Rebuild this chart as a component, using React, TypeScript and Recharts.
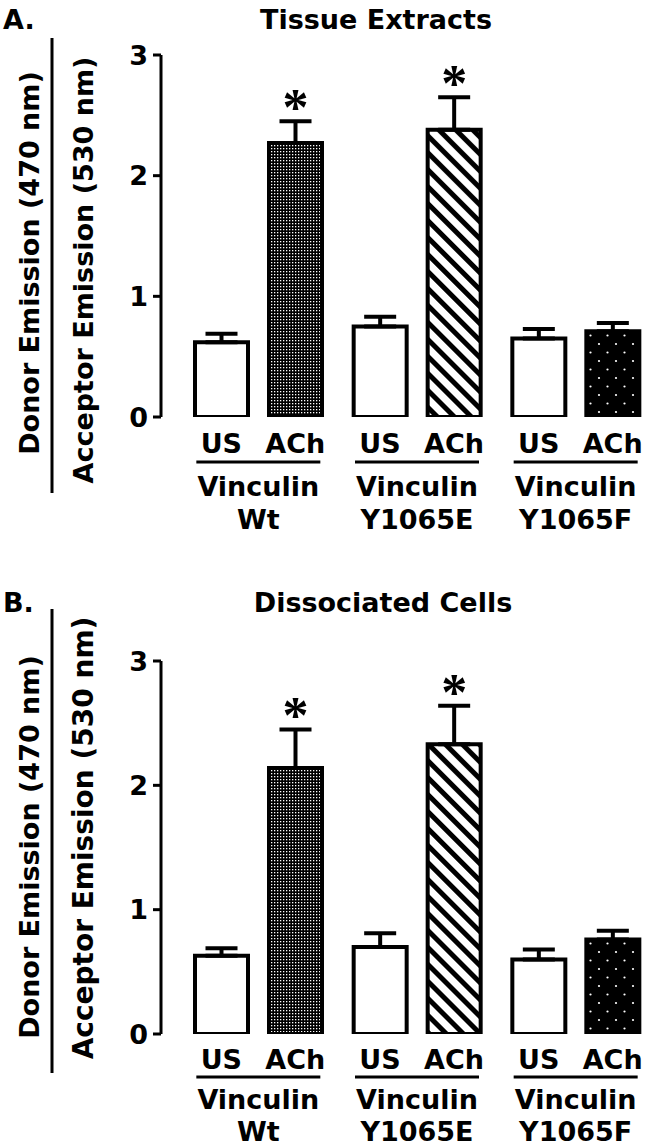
import React from "react";
import { BarChart, Bar, XAxis, YAxis, ErrorBar, Cell, LabelList } from "recharts";

// vinculin FRET ratio, two preparations
const GROUPS = ["Wt", "Y1065E", "Y1065F"];
const PROTEIN = "Vinculin";
const CONDITIONS = ["US", "ACh"];
const Y_TICKS = [0, 1, 2, 3];

const TISSUE_US = [0.62, 0.75, 0.65];
const TISSUE_US_ERR = [0.07, 0.08, 0.08];
const TISSUE_ACH = [2.27, 2.38, 0.71];
const TISSUE_ACH_ERR = [0.18, 0.27, 0.07];
const TISSUE_SIG = [true, true, false];

const CELLS_US = [0.63, 0.7, 0.6];
const CELLS_US_ERR = [0.06, 0.11, 0.08];
const CELLS_ACH = [2.14, 2.33, 0.76];
const CELLS_ACH_ERR = [0.31, 0.31, 0.07];
const CELLS_SIG = [true, true, false];

const FONT = "'DejaVu Sans', sans-serif";
const SERIF = "'Liberation Serif', serif";
const BAR_SIZE = 53;
const BAR_GAP = 21;
const ACH_PATTERNS = ["fine", "hatch", "dots"];

const buildRows = (us, usErr, ach, achErr, sig) =>
  GROUPS.map((group, i) => ({
    group,
    us: us[i],
    usErr: [0, usErr[i]],
    ach: ach[i],
    achErr: [0, achErr[i]],
    sig: sig[i],
  }));

const tissueRows = buildRows(TISSUE_US, TISSUE_US_ERR, TISSUE_ACH, TISSUE_ACH_ERR, TISSUE_SIG);
const cellRows = buildRows(CELLS_US, CELLS_US_ERR, CELLS_ACH, CELLS_ACH_ERR, CELLS_SIG);

const textStyle = { fontFamily: FONT, fontWeight: "bold", fontSize: 27, fill: "#000" };

// rows under each group: condition names, rule, protein, mutant
const GroupTick = (props) => {
  const { x, y, payload, lines } = props;
  const [condY, ruleY, protY, mutY] = lines;
  const half = (BAR_SIZE + BAR_GAP) / 2;
  return (
    <g>
      <text x={x - half} y={y + condY} textAnchor="middle" style={textStyle}>
        {CONDITIONS[0]}
      </text>
      <text x={x + half} y={y + condY} textAnchor="middle" style={textStyle}>
        {CONDITIONS[1]}
      </text>
      <line x1={x - 62} x2={x + 62} y1={y + ruleY} y2={y + ruleY} stroke="#000" strokeWidth={3} />
      <text x={x} y={y + protY} textAnchor="middle" style={textStyle}>
        {PROTEIN}
      </text>
      <text x={x} y={y + mutY} textAnchor="middle" style={textStyle}>
        {payload.value}
      </text>
    </g>
  );
};

const Panel = ({ id, letter, title, rows, top, marginTop, axisHeight, lines, titleY, titleX, divider, donorY, acceptorY, acceptorSize }) => {
  const renderStar = (p) => {
    const row = rows[p.index];
    if (!row || !row.sig) return null;
    const perUnit = p.height / row.ach;
    const capY = p.y - row.achErr[1] * perUnit;
    return (
      <text
        x={p.x + p.width / 2}
        y={capY + 4}
        textAnchor="middle"
        style={{ fontFamily: SERIF, fontWeight: "bold", fontSize: 52, fill: "#000" }}
      >
        *
      </text>
    );
  };

  return (
    <div style={{ position: "absolute", left: 0, top, width: 650, height: 574 }}>
      <BarChart
        width={655}
        height={574}
        data={rows}
        margin={{ top: marginTop, right: 0, bottom: 0, left: 0 }}
        barSize={BAR_SIZE}
        barGap={BAR_GAP}
      >
        <defs>
          <pattern id={`${id}-fine`} width={3} height={3} patternUnits="userSpaceOnUse">
            <rect width={3} height={3} fill="#000" />
            <rect x={1} y={1} width={1.3} height={1.3} fill="#fff" />
          </pattern>
          <pattern id={`${id}-hatch`} width={12} height={12} patternUnits="userSpaceOnUse" patternTransform="rotate(-45)">
            <rect width={12} height={12} fill="#fff" />
            <rect width={5} height={12} fill="#000" />
          </pattern>
          <pattern id={`${id}-dots`} width={17} height={17} patternUnits="userSpaceOnUse">
            <rect width={17} height={17} fill="#000" />
            <circle cx={4} cy={4} r={1.1} fill="#fff" />
            <circle cx={12.5} cy={12.5} r={1.1} fill="#fff" />
          </pattern>
        </defs>
        <XAxis
          dataKey="group"
          axisLine={false}
          tickLine={false}
          tickSize={0}
          tickMargin={0}
          height={axisHeight}
          padding={{ left: 18, right: 0 }}
          interval={0}
          tick={<GroupTick lines={lines} />}
        />
        <YAxis
          domain={[0, 3]}
          ticks={Y_TICKS}
          allowDataOverflow
          interval={0}
          width={161}
          axisLine={{ stroke: "#000", strokeWidth: 3 }}
          tickLine={{ stroke: "#000", strokeWidth: 3 }}
          tickSize={8}
          tickMargin={5}
          tick={{ fill: "#000", fontSize: 27, fontWeight: "bold", fontFamily: FONT }}
        />
        <Bar dataKey="us" fill="#fff" stroke="#000" strokeWidth={4} isAnimationActive={false}>
          <ErrorBar dataKey="usErr" direction="y" width={16} stroke="#000" strokeWidth={4} isAnimationActive={false} />
        </Bar>
        <Bar dataKey="ach" stroke="#000" strokeWidth={4} isAnimationActive={false}>
          {rows.map((r, i) => (
            <Cell key={r.group} fill={`url(#${id}-${ACH_PATTERNS[i]})`} />
          ))}
          <ErrorBar dataKey="achErr" direction="y" width={16} stroke="#000" strokeWidth={4} isAnimationActive={false} />
          <LabelList dataKey="ach" content={renderStar} />
        </Bar>
      </BarChart>
      <svg width={650} height={574} style={{ position: "absolute", left: 0, top: 0, pointerEvents: "none" }}>
        <text x={3} y={titleY} style={textStyle}>
          {letter}
        </text>
        <text x={titleX} y={titleY} textAnchor="middle" style={textStyle}>
          {title}
        </text>
        <line x1={52} x2={52} y1={divider[0]} y2={divider[1]} stroke="#000" strokeWidth={3} />
        <text transform={`translate(39,${donorY}) rotate(-90)`} textAnchor="middle" style={textStyle}>
          Donor Emission (470 nm)
        </text>
        <text
          transform={`translate(93,${acceptorY}) rotate(-90)`}
          textAnchor="middle"
          style={{ ...textStyle, fontSize: acceptorSize }}
        >
          Acceptor Emission (530 nm)
        </text>
      </svg>
    </div>
  );
};

export default function App() {
  return (
    <div style={{ position: "absolute", left: 0, top: 0, width: 650, height: 1148, overflow: "hidden", background: "#fff" }}>
      <Panel
        id="tissue"
        letter="A."
        title="Tissue Extracts"
        rows={tissueRows}
        top={0}
        marginTop={55}
        axisHeight={157}
        lines={[36, 45, 79, 112]}
        titleY={29}
        titleX={376}
        divider={[38, 493]}
        donorY={263}
        acceptorY={270}
        acceptorSize={27}
      />
      <Panel
        id="cells"
        letter="B."
        title="Dissociated Cells"
        rows={cellRows}
        top={574}
        marginTop={87}
        axisHeight={114}
        lines={[35, 43, 75, 107]}
        titleY={38}
        titleX={383}
        divider={[35, 499]}
        donorY={273}
        acceptorY={264}
        acceptorSize={28}
      />
    </div>
  );
}
